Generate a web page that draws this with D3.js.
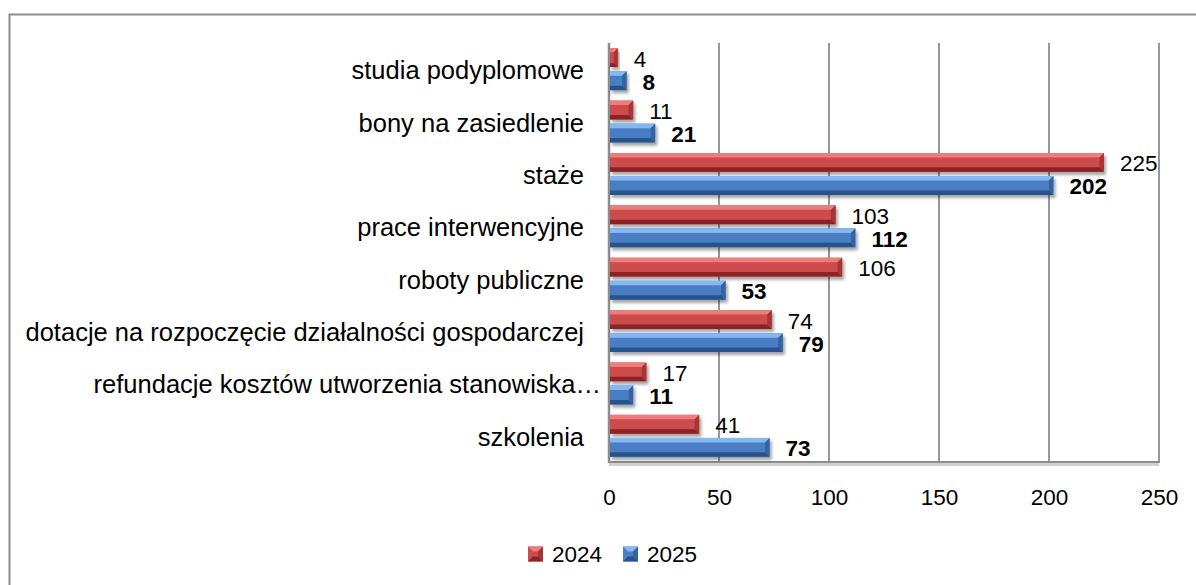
<!DOCTYPE html>
<html>
<head>
<meta charset="utf-8">
<script src="https://cdn.jsdelivr.net/npm/d3@7/dist/d3.min.js"></script>
<style>
  html, body { margin: 0; padding: 0; background: #fff; }
  svg text { font-family: "Liberation Sans", Arial, sans-serif; fill: #000; }
</style>
</head>
<body>
<div id="chart"></div>
<script>
// Categories, top to bottom
var categories = [
    "studia podyplomowe",
    "bony na zasiedlenie",
    "staże",
    "prace interwencyjne",
    "roboty publiczne",
    "dotacje na rozpoczęcie działalności gospodarczej",
    "refundacje kosztów utworzenia stanowiska…",
    "szkolenia"
];
var seriesNames = ["2024", "2025"];
var values2024 = [4, 11, 225, 103, 106, 74, 17, 41];
var values2025 = [8, 21, 202, 112, 53, 79, 11, 73];
var xTicks = [0, 50, 100, 150, 200, 250];

var width = 1196, height = 585;
var plot = {left: 609, right: 1159, top: 43, bottom: 462};
var labelSize = 25.5;   // category labels
var numSize = 22.5;     // numbers, ticks, legend

// colour sets for the bevelled bars: face, top, bottom, end
var palette = {
    "2024": {face: "#cc4b4c", top: "#ee7c7c", bottom: "#8a2426", end: "#a63436"},
    "2025": {face: "#4a7ec4", top: "#86b8f0", bottom: "#28528c", end: "#36649f"}
};

var svg = d3.select("#chart").append("svg")
    .attr("width", width)
    .attr("height", height);

// Soft shadow under the bars
var defs = svg.append("defs");
var shadow = defs.append("filter").attr("id", "shadow")
    .attr("x", "-10%").attr("y", "-30%").attr("width", "130%").attr("height", "180%");
shadow.append("feGaussianBlur").attr("in", "SourceAlpha").attr("stdDeviation", 1.6);
shadow.append("feOffset").attr("dx", 2).attr("dy", 3).attr("result", "off");
shadow.append("feComponentTransfer").append("feFuncA").attr("type", "linear").attr("slope", 0.35);
var merge = shadow.append("feMerge");
merge.append("feMergeNode");
merge.append("feMergeNode").attr("in", "SourceGraphic");

// Outer chart border
svg.append("rect")
    .attr("x", 9.5).attr("y", 14.5)
    .attr("width", width + 20).attr("height", height + 20)
    .attr("fill", "none")
    .attr("stroke", "#8c8c8c")
    .attr("stroke-width", 2);

// Scales
var x = d3.scaleLinear().domain([0, 250]).range([plot.left, plot.right]);
var y = d3.scaleBand().domain(categories).range([plot.top, plot.bottom])
    .paddingInner(0.2).paddingOuter(0.1);
var ySub = d3.scaleBand().domain(seriesNames).range([0, y.bandwidth()]).paddingInner(0.18);

// Gridlines
svg.append("g")
    .selectAll("line")
    .data(xTicks.slice(1))
    .enter()
    .append("line")
    .attr("x1", function(d) { return x(d); })
    .attr("x2", function(d) { return x(d); })
    .attr("y1", plot.top)
    .attr("y2", plot.bottom)
    .attr("stroke", "#8c8c8c")
    .attr("stroke-width", 1.8);

// Floor line under the plot
svg.append("line")
    .attr("x1", plot.left).attr("x2", plot.right)
    .attr("y1", plot.bottom + 2.5).attr("y2", plot.bottom + 2.5)
    .attr("stroke", "#d0d0d0").attr("stroke-width", 3);
svg.append("line")
    .attr("x1", plot.left - 1).attr("x2", plot.right + 1)
    .attr("y1", plot.bottom).attr("y2", plot.bottom)
    .attr("stroke", "#8c8c8c").attr("stroke-width", 2);

// Category axis line
svg.append("line")
    .attr("x1", plot.left).attr("x2", plot.left)
    .attr("y1", plot.top).attr("y2", plot.bottom + 1)
    .attr("stroke", "#8c8c8c").attr("stroke-width", 2.5);

// Bars
var rows = [];
categories.forEach(function(c, i) {
    rows.push({cat: c, series: "2024", value: values2024[i]});
    rows.push({cat: c, series: "2025", value: values2025[i]});
});

function bevelBar(g, d) {
    var x0 = x(0) + 1, x1 = x(d.value);
    var y0 = y(d.cat) + ySub(d.series), y1 = y0 + ySub.bandwidth();
    var b = Math.min(4.5, (x1 - x0) / 2, (y1 - y0) / 3);
    var c = palette[d.series];
    var bar = g.append("g").attr("filter", "url(#shadow)");
    bar.append("rect")
        .attr("x", x0).attr("y", y0)
        .attr("width", x1 - x0).attr("height", y1 - y0)
        .attr("fill", c.face);
    bar.append("polygon")
        .attr("points", [[x0, y0], [x1, y0], [x1 - b, y0 + b], [x0, y0 + b]].join(" "))
        .attr("fill", c.top);
    bar.append("polygon")
        .attr("points", [[x0, y1], [x1, y1], [x1 - b, y1 - b], [x0, y1 - b]].join(" "))
        .attr("fill", c.bottom);
    bar.append("polygon")
        .attr("points", [[x1, y0], [x1, y1], [x1 - b, y1 - b], [x1 - b, y0 + b]].join(" "))
        .attr("fill", c.end);
}

var barLayer = svg.append("g");
rows.forEach(function(d) { bevelBar(barLayer, d); });

// Value labels
svg.append("g")
    .selectAll("text")
    .data(rows)
    .enter()
    .append("text")
    .attr("x", function(d) { return x(d.value) + 16; })
    .attr("y", function(d) { return y(d.cat) + ySub(d.series) + ySub.bandwidth() / 2 + 1.5; })
    .attr("dominant-baseline", "central")
    .attr("font-size", numSize)
    .attr("font-weight", function(d) { return d.series === "2025" ? "bold" : "normal"; })
    .text(function(d) { return d.value; });

// Category labels
svg.append("g")
    .selectAll("text")
    .data(categories)
    .enter()
    .append("text")
    .attr("x", function(d) { return d.slice(-1) === "…" ? plot.left - 8 : plot.left - 25; })
    .attr("y", function(d) { return y(d) + y.bandwidth() / 2 + 1; })
    .attr("text-anchor", "end")
    .attr("dominant-baseline", "central")
    .attr("font-size", labelSize)
    .text(function(d) { return d; });

// Value axis
var xAxis = d3.axisBottom(x).tickValues(xTicks).tickSize(0).tickPadding(0);
var axisG = svg.append("g")
    .attr("transform", "translate(0," + (plot.bottom + 35) + ")")
    .call(xAxis);
axisG.select(".domain").remove();
axisG.selectAll("text")
    .attr("font-size", numSize)
    .attr("font-family", null)
    .attr("dy", null)
    .attr("dominant-baseline", "central");

// Legend
var legend = svg.append("g").attr("transform", "translate(528,554)");
var legendX = [0, 95];
seriesNames.forEach(function(s, i) {
    var item = legend.append("g").attr("transform", "translate(" + legendX[i] + ",0)");
    var c = palette[s];
    var h = 7.5, b = 5;
    item.append("rect").attr("x", 0).attr("y", -h).attr("width", 2 * h).attr("height", 2 * h).attr("fill", c.face);
    item.append("polygon").attr("points", [[0, -h], [2 * h, -h], [2 * h - b, -h + b], [b, -h + b]].join(" ")).attr("fill", c.top);
    item.append("polygon").attr("points", [[0, h], [2 * h, h], [2 * h - b, h - b], [b, h - b]].join(" ")).attr("fill", c.bottom);
    item.append("polygon").attr("points", [[2 * h, -h], [2 * h, h], [2 * h - b, h - b], [2 * h - b, -h + b]].join(" ")).attr("fill", c.end);
    item.append("text")
        .attr("x", 24).attr("y", 0)
        .attr("dominant-baseline", "central")
        .attr("font-size", numSize)
        .text(s);
});
</script>
</body>
</html>
